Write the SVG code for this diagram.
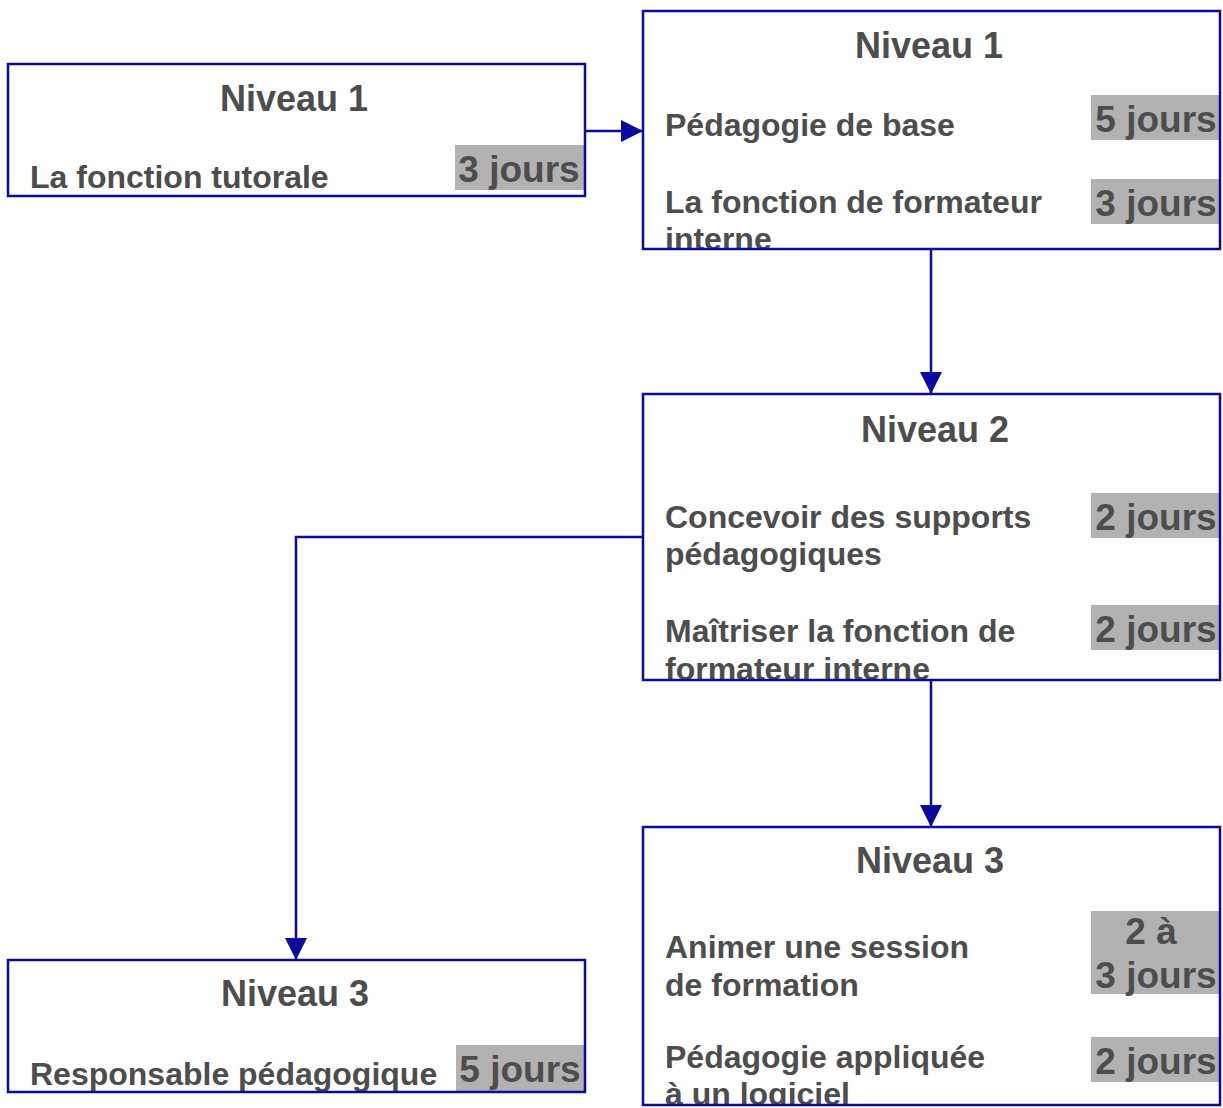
<svg xmlns="http://www.w3.org/2000/svg" width="1223" height="1108" viewBox="0 0 1223 1108">
<style>
.box{fill:#ffffff;stroke:none}
.border{fill:none;stroke:#0a0a9c;stroke-width:2.5}
.badge{fill:#b2b2b2}
text{font-family:"Liberation Sans",Arial,sans-serif;font-weight:bold;fill:#4d4d4d}
.title{font-size:36px;text-anchor:middle}
.body{font-size:32px}
.dur{font-size:37px;text-anchor:middle}
.conn{fill:none;stroke:#0a0a9c;stroke-width:2.5}
</style>
<defs>
<marker id="arr" markerWidth="22" markerHeight="22" refX="21" refY="11" orient="auto" markerUnits="userSpaceOnUse">
<path d="M0,0 L22,11 L0,22 Z" fill="#0a0a9c"/>
</marker>
<clipPath id="c1"><rect x="8" y="64" width="577" height="132"/></clipPath>
<clipPath id="c2"><rect x="643" y="11" width="577" height="238"/></clipPath>
<clipPath id="c3"><rect x="643" y="394" width="577" height="286"/></clipPath>
<clipPath id="c4"><rect x="643" y="827" width="577" height="278"/></clipPath>
<clipPath id="c5"><rect x="8" y="960" width="577" height="132"/></clipPath>
</defs>
<rect width="1223" height="1108" fill="#ffffff"/>

<g id="connectors">
<path class="conn" d="M585,131 L642,131" marker-end="url(#arr)"/>
<path class="conn" d="M931,249 L931,393" marker-end="url(#arr)"/>
<path class="conn" d="M643,537 L296,537 L296,959" marker-end="url(#arr)"/>
<path class="conn" d="M931,680 L931,826" marker-end="url(#arr)"/>
</g>

<g id="n1">
<rect class="box" x="8" y="64" width="577" height="132"/>
<g clip-path="url(#c1)">
<rect class="badge" x="455" y="145" width="130" height="45"/>
<text class="title" x="294" y="111">Niveau 1</text>
<text class="body" x="30" y="188">La fonction tutorale</text>
<text class="dur" x="519" y="182">3 jours</text>
</g>
<rect class="border" x="8" y="64" width="577" height="132"/>
</g>

<g id="n2">
<rect class="box" x="643" y="11" width="577" height="238"/>
<g clip-path="url(#c2)">
<rect class="badge" x="1091" y="95" width="129" height="45"/>
<rect class="badge" x="1091" y="179" width="129" height="45"/>
<text class="title" x="929" y="58">Niveau 1</text>
<text class="body" x="665" y="136">Pédagogie de base</text>
<text class="body" x="665" y="213">La fonction de formateur</text>
<text class="body" x="665" y="250">interne</text>
<text class="dur" x="1156" y="132">5 jours</text>
<text class="dur" x="1156" y="216">3 jours</text>
</g>
<rect class="border" x="643" y="11" width="577" height="238"/>
</g>

<g id="n3">
<rect class="box" x="643" y="394" width="577" height="286"/>
<g clip-path="url(#c3)">
<rect class="badge" x="1091" y="493" width="129" height="45"/>
<rect class="badge" x="1091" y="605" width="129" height="45"/>
<text class="title" x="935" y="442">Niveau 2</text>
<text class="body" x="665" y="528">Concevoir des supports</text>
<text class="body" x="665" y="565">pédagogiques</text>
<text class="body" x="665" y="642">Maîtriser la fonction de</text>
<text class="body" x="665" y="680">formateur interne</text>
<text class="dur" x="1156" y="530">2 jours</text>
<text class="dur" x="1156" y="642">2 jours</text>
</g>
<rect class="border" x="643" y="394" width="577" height="286"/>
</g>

<g id="n4">
<rect class="box" x="643" y="827" width="577" height="278"/>
<g clip-path="url(#c4)">
<rect class="badge" x="1091" y="911" width="129" height="83"/>
<rect class="badge" x="1091" y="1037" width="129" height="45"/>
<text class="title" x="930" y="873">Niveau 3</text>
<text class="body" x="665" y="958">Animer une session</text>
<text class="body" x="665" y="996">de formation</text>
<text class="body" x="665" y="1068">Pédagogie appliquée</text>
<text class="body" x="665" y="1105">à un logiciel</text>
<text class="dur" x="1151" y="944">2 à</text>
<text class="dur" x="1156" y="988">3 jours</text>
<text class="dur" x="1156" y="1074">2 jours</text>
</g>
<rect class="border" x="643" y="827" width="577" height="278"/>
</g>

<g id="n5">
<rect class="box" x="8" y="960" width="577" height="132"/>
<g clip-path="url(#c5)">
<rect class="badge" x="456" y="1045" width="129" height="47"/>
<text class="title" x="295" y="1006">Niveau 3</text>
<text class="body" x="30" y="1085">Responsable pédagogique</text>
<text class="dur" x="520" y="1082">5 jours</text>
</g>
<rect class="border" x="8" y="960" width="577" height="132"/>
</g>
</svg>
